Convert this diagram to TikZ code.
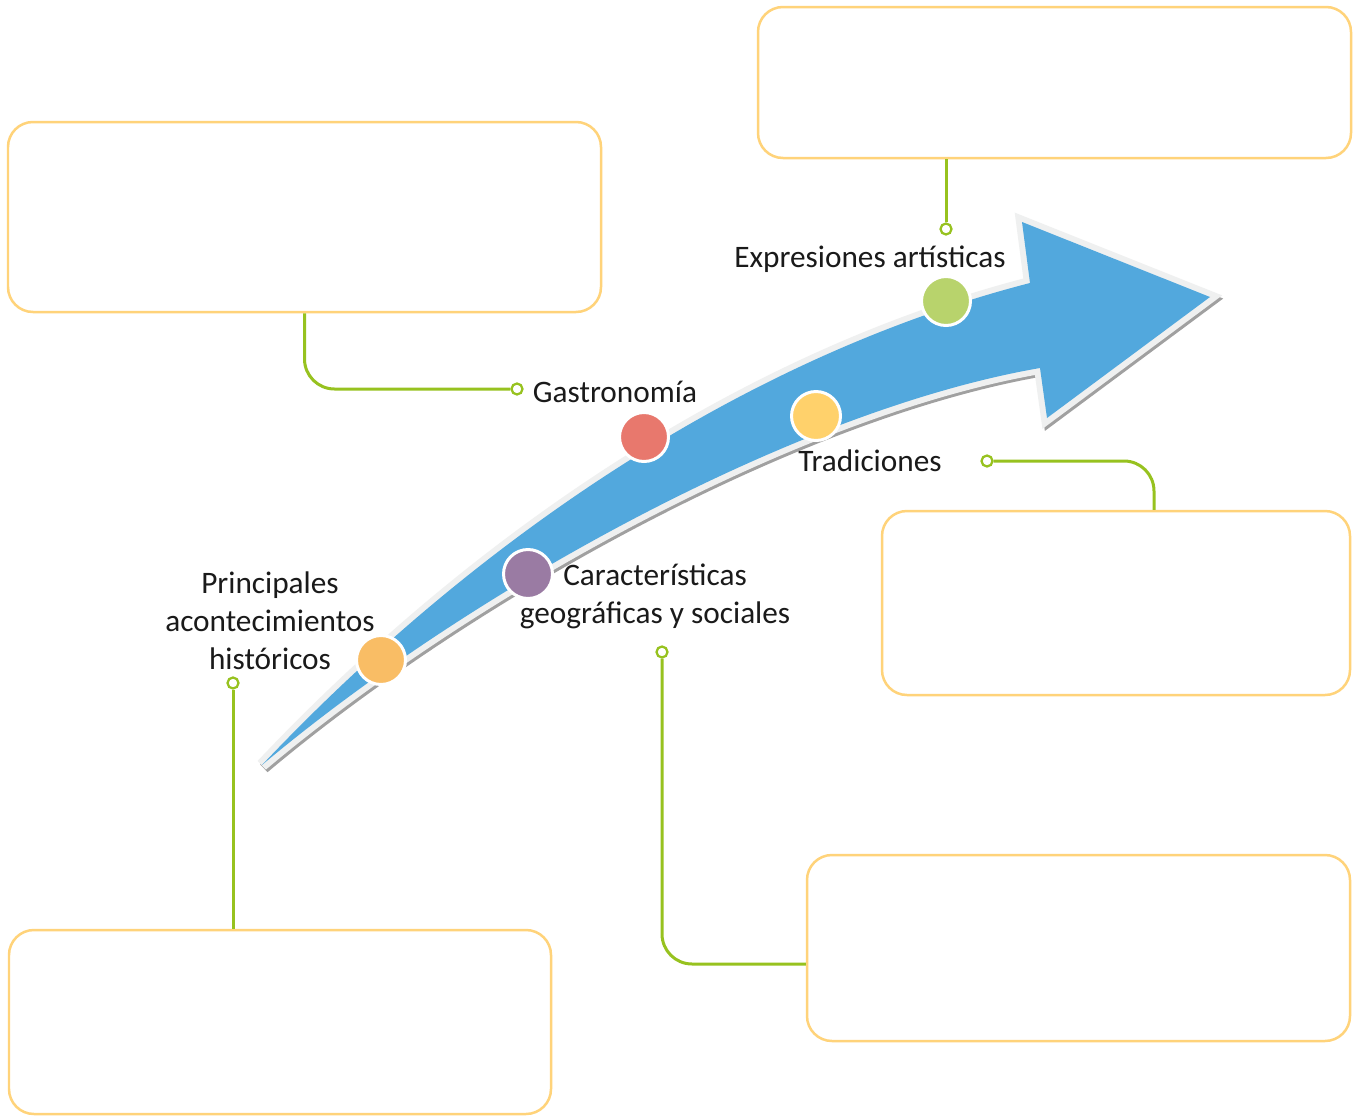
\documentclass[tikz,border=0pt]{standalone}
\usepackage{fontspec}
\setmainfont{Carlito}
\definecolor{arrowblue}{HTML}{52A8DD}
\definecolor{rimgray}{HTML}{EFF0F0}
\definecolor{shadowgray}{HTML}{A0A0A0}
\definecolor{boxyellow}{HTML}{FFD37A}
\definecolor{linegreen}{HTML}{97C21F}
\definecolor{cOrange}{HTML}{F9BD65}
\definecolor{cPurple}{HTML}{9A7BA3}
\definecolor{cRed}{HTML}{E8786D}
\definecolor{cYellow}{HTML}{FFD16B}
\definecolor{cGreen}{HTML}{B8D36C}
\definecolor{txt}{HTML}{1A1A1A}
\tikzset{
  arrowshape/.style={insert path={(262,765) .. controls (470,545) and (739,358) .. (1030,283) -- (1022,222) -- (1210,297) -- (1047,418) -- (1040,368) .. controls (797,410) and (470,590) .. cycle}},
  infobox/.style={draw=boxyellow, line width=0.05cm, rounded corners=0.5cm, fill=white, inner sep=0pt},
  stepdot/.style={circle, draw=white, line width=0.06cm, minimum size=0.98cm, inner sep=0pt},
  enddot/.style={circle, draw=linegreen, fill=white, line width=0.045cm, minimum size=0.22cm, inner sep=0pt},
  conn/.style={draw=linegreen, line width=0.06cm, rounded corners=0.6cm},
  lbl/.style={text=txt, font=\fontsize{17.8pt}{21.6pt}\selectfont, align=center, inner sep=0pt}
}
\begin{document}
\begin{tikzpicture}[x=0.02cm, y=-0.02cm]
\path[use as bounding box, fill=white] (0,0) rectangle (1353,1116);

% arrow
\path[shift={(2,3)}, fill=shadowgray, draw=shadowgray, line width=0.22cm, line join=miter, miter limit=3, arrowshape];
\path[fill=rimgray, draw=rimgray, line width=0.24cm, line join=miter, miter limit=3, arrowshape];
\path[fill=arrowblue, arrowshape];

% boxes
\node[infobox, minimum width=593*0.02cm, minimum height=190*0.02cm] (b1) at (304.5,217) {};
\node[infobox, minimum width=593*0.02cm, minimum height=151*0.02cm] (b2) at (1054.5,82.5) {};
\node[infobox, minimum width=468*0.02cm, minimum height=184*0.02cm] (b3) at (1116,603) {};
\node[infobox, minimum width=543*0.02cm, minimum height=186*0.02cm] (b4) at (1078.5,948) {};
\node[infobox, minimum width=542*0.02cm, minimum height=184*0.02cm] (b5) at (280,1022) {};

% end dots
\node[enddot] (d1) at (517,389) {};
\node[enddot] (d2) at (946,229) {};
\node[enddot] (d3) at (987,461) {};
\node[enddot] (d4) at (662,652) {};
\node[enddot] (d5) at (233,683) {};

% connectors
\draw[conn] (b1.south) |- (d1);
\draw[conn] (b2.south -| d2) -- (d2);
\draw[conn] (d3) -| ([xshift=0.76cm]b3.north);
\draw[conn] (d4) |- ([yshift=-0.32cm]b4.west);
\draw[conn] (d5) -- (b5.north -| d5);

% step circles
\node[stepdot, fill=cOrange] (s1) at (381,660) {};
\node[stepdot, fill=cPurple] (s2) at (528,574) {};
\node[stepdot, fill=cRed] (s3) at (644,437) {};
\node[stepdot, fill=cYellow] (s4) at (816,416) {};
\node[stepdot, fill=cGreen] (s5) at (946,301) {};

% labels
\node[lbl] (l1) at (270,621) {Principales\\acontecimientos\\históricos};
\node[lbl] (l2) at (655,596) {Características\\geográficas y sociales};
\node[lbl] (l3) at (615,392) {Gastronomía};
\node[lbl] (l4) at (870,461) {Tradiciones};
\node[lbl] (l5) at (870,259) {Expresiones artísticas};
\end{tikzpicture}
\end{document}
